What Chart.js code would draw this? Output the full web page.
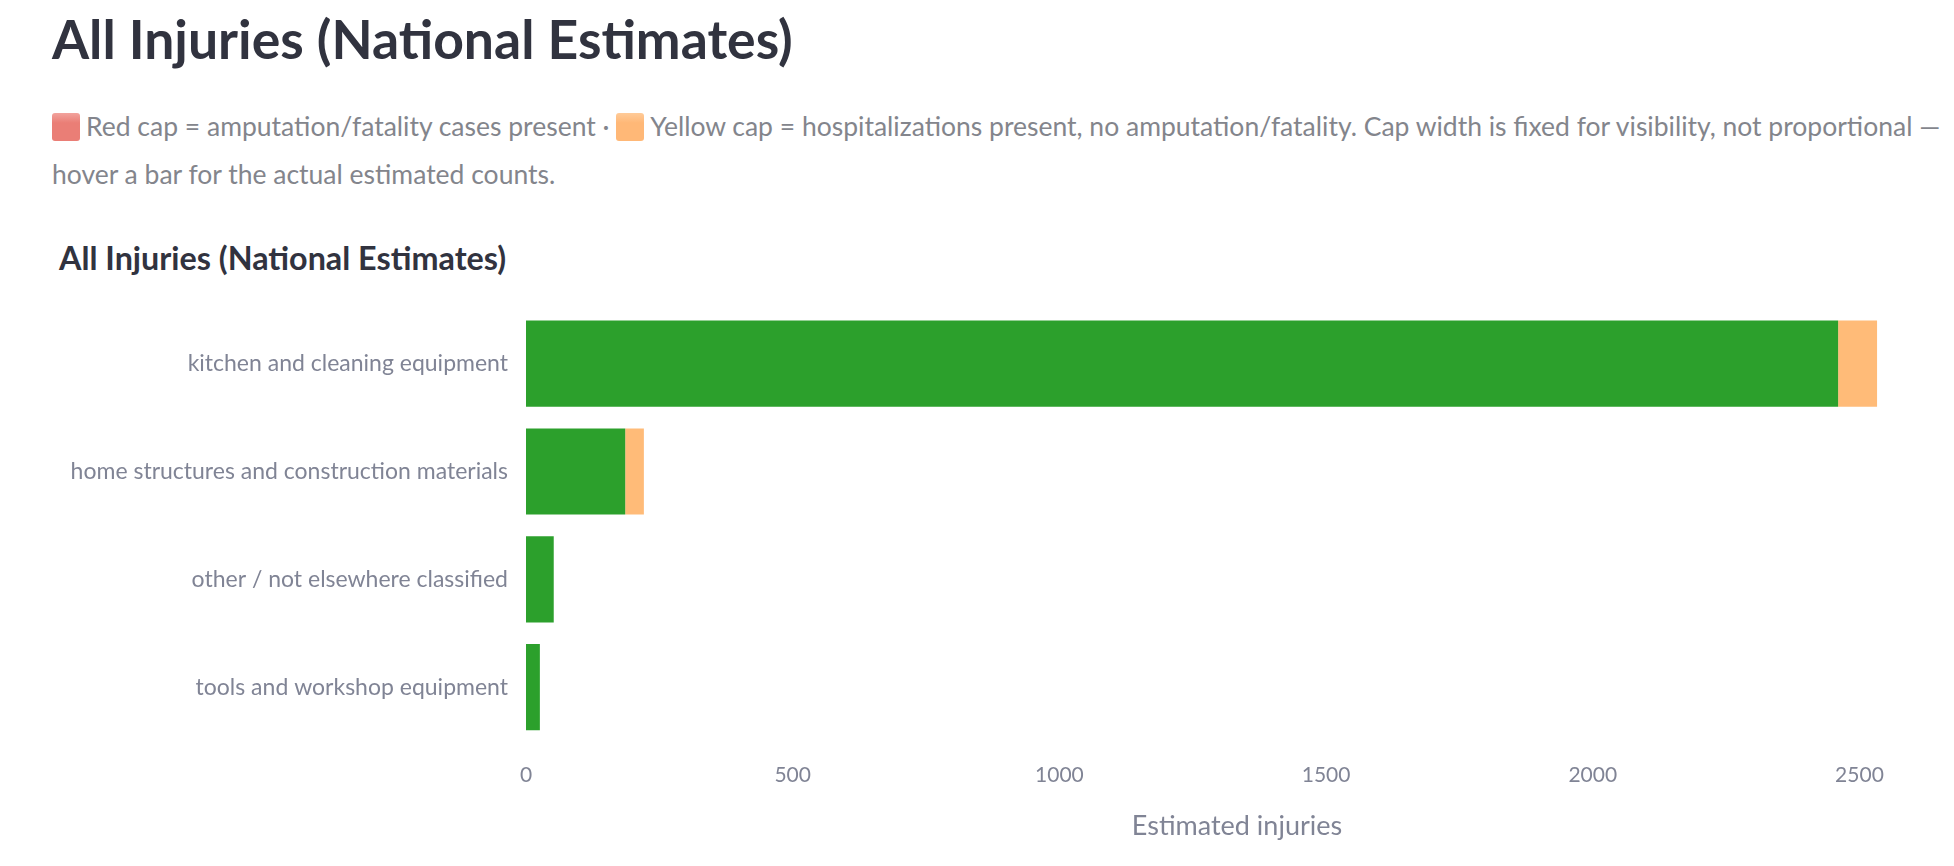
<!DOCTYPE html>
<html>
<head>
<meta charset="utf-8">
<script src="https://cdn.jsdelivr.net/npm/chart.js@4.4.1/dist/chart.umd.min.js"></script>
<style>
  html, body { margin: 0; padding: 0; background: #ffffff; }
  body { width: 1954px; height: 866px; position: relative; overflow: hidden; font-family: Lato, "Open Sans", sans-serif; }
  #title { position: absolute; left: 52px; top: 12px; font-size: 53.5px; line-height: 53.5px; font-weight: 700; color: #31333F; white-space: nowrap; }
  .cap { position: absolute; left: 52px; font-size: 26.5px; line-height: 26.5px; color: #83858c; white-space: nowrap; }
  #l1 { top: 113px; }
  #l2 { top: 161px; }
  .sw { display: inline-block; width: 28px; height: 28px; border-radius: 3px; vertical-align: -5px; margin-right: 6px; }
  .sw.red { background: linear-gradient(#f2a39d 0%, #ea7e76 35%, #ea7e76 100%); }
  .sw.yel { background: linear-gradient(#ffcb99 0%, #ffb877 35%, #ffb877 100%); }
  #ctitle { position: absolute; left: 59px; top: 242px; font-size: 32.3px; line-height: 32.3px; font-weight: 700; color: #31333F; white-space: nowrap; }
  #wrap { position: absolute; left: 0; top: 278px; width: 1954px; height: 588px; }
</style>
</head>
<body>
<div id="title">All Injuries (National Estimates)</div>
<div class="cap" id="l1"><span class="sw red"></span>Red cap = amputation/fatality cases present · <span class="sw yel"></span>Yellow cap = hospitalizations present, no amputation/fatality. Cap width is fixed for visibility, not proportional —</div>
<div class="cap" id="l2">hover a bar for the actual estimated counts.</div>
<div id="ctitle">All Injuries (National Estimates)</div>
<div id="wrap"><canvas id="c"></canvas></div>
<script>
const categories = [
  "kitchen and cleaning equipment",
  "home structures and construction materials",
  "other / not elsewhere classified",
  "tools and workshop equipment"
];
const estimatedInjuries = [2460, 186, 52, 26];
const yellowCap = [73, 35, 0, 0];
const redCap = [0, 0, 0, 0];
const xTicks = [0, 500, 1000, 1500, 2000, 2500];
const xMax = 2666;

const labelColor = '#808495';

new Chart(document.getElementById('c'), {
  type: 'bar',
  data: {
    labels: categories,
    datasets: [
      { label: 'Estimated injuries', data: estimatedInjuries, backgroundColor: '#2ca02c', borderWidth: 0 },
      { label: 'Hospitalizations cap', data: yellowCap, backgroundColor: '#ffbb78', borderWidth: 0 },
      { label: 'Amputation/fatality cap', data: redCap, backgroundColor: '#ff9896', borderWidth: 0 }
    ]
  },
  options: {
    indexAxis: 'y',
    responsive: true,
    maintainAspectRatio: false,
    animation: false,
    layout: { padding: { top: 1, right: 6, left: 0, bottom: 0 } },
    datasets: { bar: { categoryPercentage: 1.0, barPercentage: 0.8 } },
    plugins: { legend: { display: false }, tooltip: { enabled: true } },
    scales: {
      x: {
        stacked: true,
        min: 0,
        max: xMax,
        grid: { display: false, drawTicks: false },
        border: { display: false },
        afterBuildTicks: (s) => { s.ticks = xTicks.map(v => ({ value: v })); },
        afterFit: (s) => { s.height = 125; },
        ticks: { color: labelColor, font: { family: 'Lato', size: 21 }, padding: 22, maxRotation: 0, callback: (v) => String(v) },
        title: { display: true, text: 'Estimated injuries', color: labelColor, font: { family: 'Lato', size: 27 }, padding: { top: 0, bottom: 24 } }
      },
      y: {
        stacked: true,
        grid: { display: false, drawTicks: false },
        border: { display: false },
        afterFit: (s) => { s.width = 526; },
        ticks: { color: labelColor, font: { family: 'Lato', size: 23 }, padding: 18 }
      }
    }
  }
});
</script>
</body>
</html>
